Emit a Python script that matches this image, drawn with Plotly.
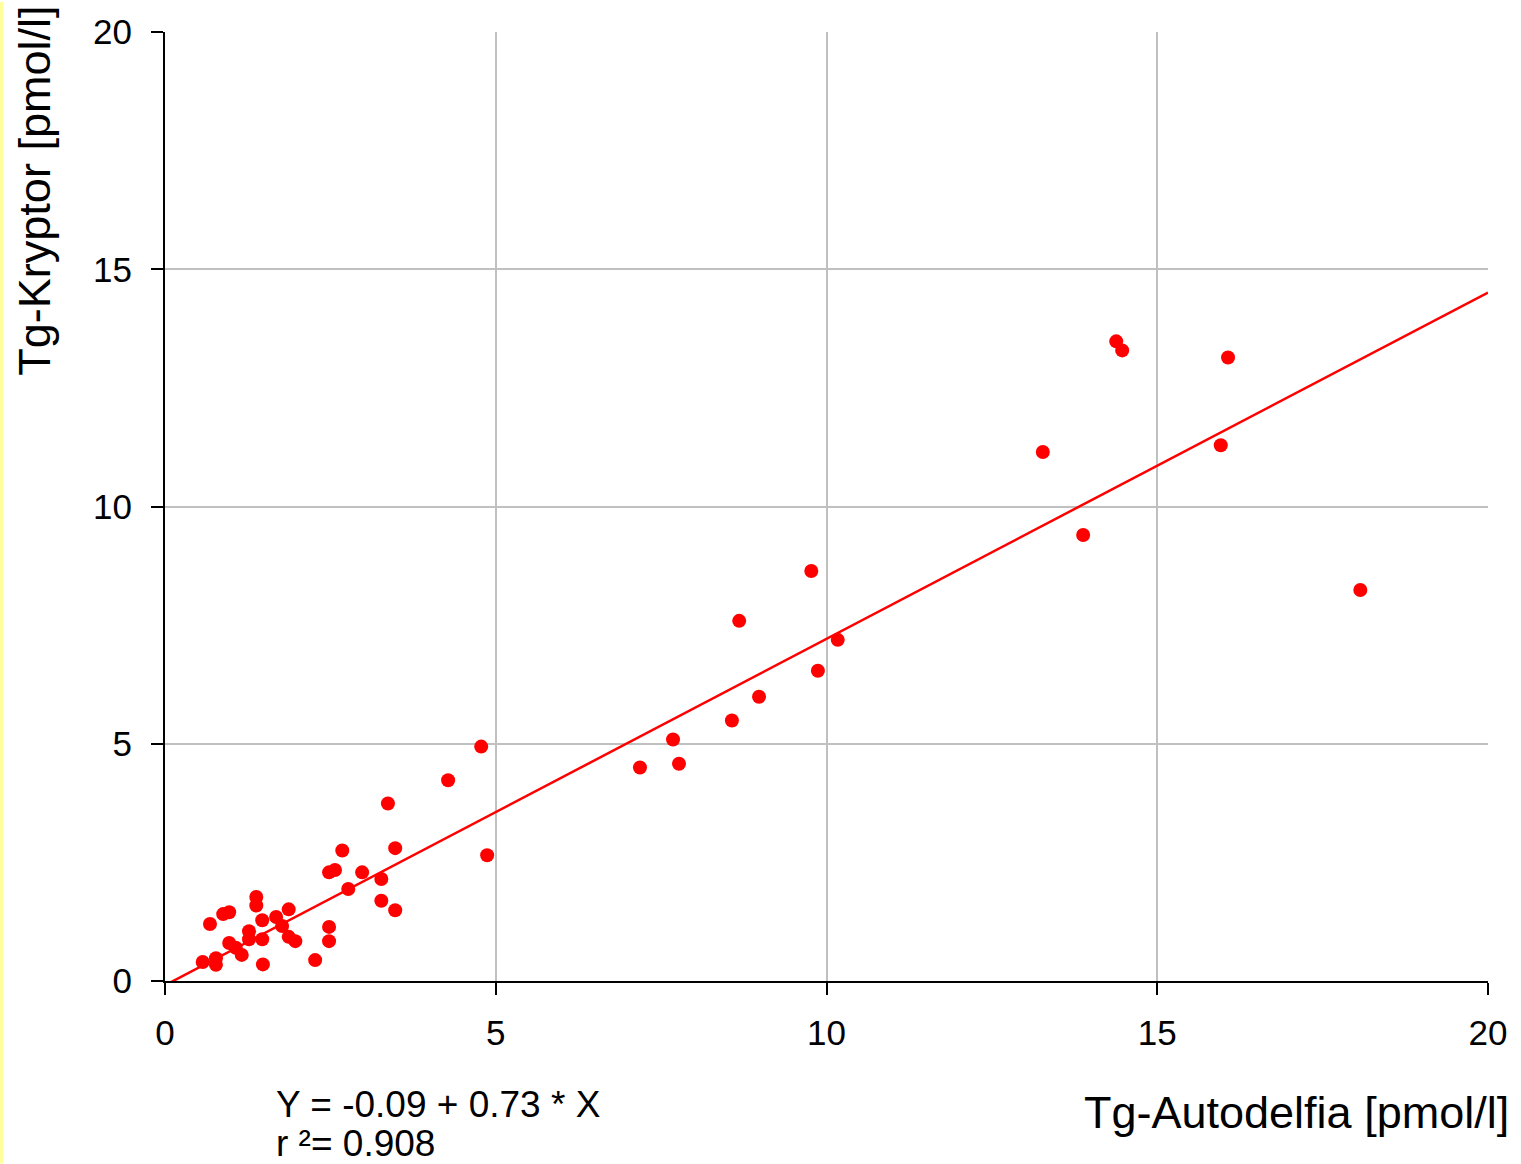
import plotly.graph_objects as go

# Data
autodelfia = [0.57, 0.68, 0.77, 0.77, 0.88, 0.97, 0.97, 1.07, 1.16, 1.27, 1.27,
              1.38, 1.38, 1.47, 1.47, 1.48, 1.68, 1.77, 1.87, 1.87, 1.97,
              2.27, 2.48, 2.48, 2.48, 2.57, 2.68, 2.77, 2.98, 3.27, 3.27, 3.37,
              3.48, 3.48, 4.28, 4.78, 4.87, 7.18, 7.68, 7.77, 8.57, 8.68, 8.98,
              9.77, 9.87, 10.17, 13.27, 13.88, 14.38, 14.47, 16.07, 15.96, 18.07]
kryptor = [0.40, 1.20, 0.48, 0.34, 1.41, 1.45, 0.80, 0.70, 0.55, 1.05, 0.88,
           1.77, 1.59, 1.28, 0.88, 0.35, 1.35, 1.16, 1.51, 0.93, 0.84,
           0.44, 1.14, 0.84, 2.29, 2.34, 2.75, 1.94, 2.29, 2.15, 1.69, 3.74,
           2.80, 1.49, 4.23, 4.94, 2.65, 4.50, 5.09, 4.58, 5.49, 7.59, 5.99,
           8.64, 6.54, 7.19, 11.15, 9.40, 13.48, 13.29, 13.14, 11.29, 8.24]

intercept = -0.09
slope = 0.73
r_squared = 0.908
x_range = [0, 20]
tick_vals = [0, 5, 10, 15, 20]

fit_x = x_range
fit_y = [intercept + slope * v for v in fit_x]

FONT = "Liberation Sans, Arial, sans-serif"

fig = go.Figure()
fig.add_trace(go.Scatter(x=fit_x, y=fit_y, mode="lines",
                         line=dict(color="#ff0000", width=2.5), showlegend=False,
                         hoverinfo="skip"))
fig.add_trace(go.Scatter(x=autodelfia, y=kryptor, mode="markers",
                         marker=dict(color="#ff0000", size=14, line=dict(width=0)),
                         showlegend=False))

axis_common = dict(
    range=x_range, tickvals=tick_vals, showgrid=True, gridcolor="#c0c0c0",
    gridwidth=2, zeroline=False, showline=True, linecolor="black", linewidth=2,
    ticks="outside", ticklen=12, tickwidth=2, tickcolor="black",
    tickfont=dict(family=FONT, size=35, color="black"), mirror=False,
)

fig.update_xaxes(**axis_common, ticklabelstandoff=8)
fig.update_yaxes(**axis_common, ticklabelstandoff=12)

L, R, T, B = 165, 33, 30, 183
W, H = 1521, 1164
pw, ph = W - L - R, H - T - B

def px2paper_x(px):
    return (px - L) / pw

def px2paper_y(py):
    return (H - B - py) / ph

annotations = [
    dict(text="Tg-Autodelfia [pmol/l]", xref="paper", yref="paper",
         x=px2paper_x(1511), y=px2paper_y(1113), xanchor="right", yanchor="middle",
         showarrow=False, font=dict(family=FONT, size=45, color="black")),
    dict(text="Tg-Kryptor [pmol/l]", xref="paper", yref="paper",
         x=px2paper_x(35), y=px2paper_y(189), xanchor="center", yanchor="middle",
         textangle=-90, showarrow=False,
         font=dict(family=FONT, size=45, color="black")),
    dict(text=f"Y = {intercept:.2f} + {slope:.2f} * X", xref="paper", yref="paper",
         x=px2paper_x(274), y=px2paper_y(1105), xanchor="left", yanchor="middle",
         showarrow=False, font=dict(family=FONT, size=37, color="black")),
    dict(text=f"r ²= {r_squared:.3f}", xref="paper", yref="paper",
         x=px2paper_x(274), y=px2paper_y(1144), xanchor="left", yanchor="middle",
         showarrow=False, font=dict(family=FONT, size=37, color="black")),
]

shapes = [
    dict(type="rect", xref="paper", yref="paper",
         x0=px2paper_x(0), x1=px2paper_x(3), y0=px2paper_y(H), y1=px2paper_y(0),
         fillcolor="#ffff99", line=dict(width=0), layer="below"),
]

fig.update_layout(
    width=W, height=H,
    margin=dict(l=L, r=R, t=T, b=B, pad=0),
    paper_bgcolor="white", plot_bgcolor="white",
    annotations=annotations, shapes=shapes,
    font=dict(family=FONT, color="black"),
)

fig.write_html("out.html", config={"displayModeBar": False},
               post_script="document.body.style.margin='0';document.body.style.overflow='hidden';")
